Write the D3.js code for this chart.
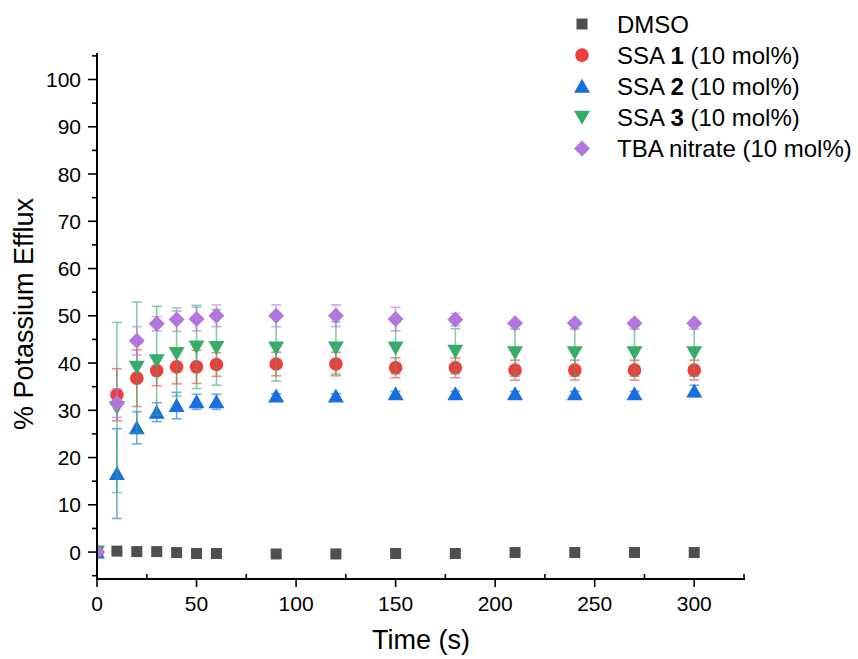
<!DOCTYPE html>
<html>
<head>
<meta charset="utf-8">
<script src="https://cdn.jsdelivr.net/npm/d3@7"></script>
<style>
  body { margin: 0; background: #fff; }
  svg { font-family: "Liberation Sans", Arial, sans-serif; }
</style>
</head>
<body>
<svg id="chart" width="858" height="659"></svg>
<script>
// data
var times = [0, 10, 20, 30, 40, 50, 60, 90, 120, 150, 180, 210, 240, 270, 300];
var dmso    = [0, 0.2, 0.1, 0.1, -0.1, -0.3, -0.3, -0.4, -0.4, -0.3, -0.3, -0.1, -0.1, -0.1, -0.1];
var dmsoErr = [0, 0, 0, 0, 0, 0, 0, 0, 0, 0, 0, 0, 0, 0, 0];
var ssa1    = [0, 33.3, 36.8, 38.4, 39.2, 39.2, 39.7, 39.8, 39.8, 39.0, 39.0, 38.5, 38.5, 38.5, 38.5];
var ssa1Err = [0, 5.5, 6.0, 3.2, 3.6, 3.5, 2.5, 2.5, 2.5, 2.1, 2.1, 2.1, 2.1, 2.1, 2.1];
var ssa2    = [0, 16.6, 26.3, 29.6, 31.0, 31.8, 31.8, 33.0, 33.0, 33.5, 33.5, 33.5, 33.5, 33.5, 34.1];
var ssa2Err = [0, 9.5, 3.4, 2.0, 2.8, 1.6, 1.6, 0.5, 0.5, 0.5, 0.5, 0.5, 0.5, 0.5, 1.2];
var ssa3    = [0, 30.6, 39.1, 40.5, 42.0, 43.4, 43.3, 43.2, 43.2, 43.2, 42.5, 42.2, 42.2, 42.2, 42.2];
var ssa3Err = [0, 18.0, 13.8, 11.5, 9.0, 8.8, 8.0, 7.0, 5.5, 5.5, 4.8, 5.0, 5.0, 5.0, 5.0];
var tba     = [0, 31.5, 44.7, 48.3, 49.2, 49.3, 50.0, 50.0, 50.0, 49.3, 49.2, 48.4, 48.4, 48.4, 48.4];
var tbaErr  = [0, 3.0, 3.0, 1.5, 2.5, 2.5, 2.3, 2.3, 2.3, 2.5, 1.3, 0.5, 0.5, 0.5, 0.5];

var xTicks = [0, 50, 100, 150, 200, 250, 300];
var yTicks = [0, 10, 20, 30, 40, 50, 60, 70, 80, 90, 100];

var series = [
  {name: ["DMSO"], vals: dmso, err: dmsoErr, color: "#4f4f4f", shape: "square"},
  {name: ["SSA ", "1", " (10 mol%)"], vals: ssa1, err: ssa1Err, color: "#f03c3c", shape: "circle"},
  {name: ["SSA ", "2", " (10 mol%)"], vals: ssa2, err: ssa2Err, color: "#1a6fdf", shape: "up"},
  {name: ["SSA ", "3", " (10 mol%)"], vals: ssa3, err: ssa3Err, color: "#37ad6b", shape: "down"},
  {name: ["TBA nitrate (10 mol%)"], vals: tba, err: tbaErr, color: "#b177de", shape: "diamond"}
];

////////////////////////////////////////////
// svg chart
////////////////////////////////////////////
var svg = d3.select("svg#chart");

var x = d3.scaleLinear().domain([0, 325]).range([97, 744]);
var y = d3.scaleLinear().domain([-5.7, 105.4]).range([579, 54]);

function shapePath(s){
  if(s == "square") return "M-5.5,-5.5H5.5V5.5H-5.5Z";
  if(s == "circle") return "M-6.8,0A6.8,6.8 0 1,1 6.8,0A6.8,6.8 0 1,1 -6.8,0Z";
  if(s == "up") return "M0,-7.5L8,6.5L-8,6.5Z";
  if(s == "down") return "M0,7.5L8,-6.5L-8,-6.5Z";
  if(s == "diamond") return "M0,-8L8,0L0,8L-8,0Z";
}

svg.append("defs").append("clipPath").attr("id", "plotclip")
  .append("rect")
  .attr("x", x(0)).attr("y", y(105.4))
  .attr("width", x(325) - x(0)).attr("height", y(-5.7) - y(105.4));

let plot = svg.append("g").attr("clip-path", "url(#plotclip)");

series.forEach(function(s){
  let g = plot.append("g").attr("class", "series");
  let pts = times.map((t, i) => ({t: t, v: s.vals[i], e: s.err[i]}));

  //error bars
  let eb = g.append("g")
    .attr("stroke", s.color)
    .attr("stroke-width", 1.6)
    .attr("opacity", 0.6)
    .selectAll("g")
    .data(pts.filter(d => d.e > 0))
    .enter().append("g");
  eb.append("line")
    .attr("x1", d => x(d.t)).attr("x2", d => x(d.t))
    .attr("y1", d => y(d.v + d.e)).attr("y2", d => y(d.v - d.e));
  eb.append("line")
    .attr("x1", d => x(d.t) - 5).attr("x2", d => x(d.t) + 5)
    .attr("y1", d => y(d.v + d.e)).attr("y2", d => y(d.v + d.e));
  eb.append("line")
    .attr("x1", d => x(d.t) - 5).attr("x2", d => x(d.t) + 5)
    .attr("y1", d => y(d.v - d.e)).attr("y2", d => y(d.v - d.e));

  //markers
  g.selectAll("path")
    .data(pts)
    .enter().append("path")
    .attr("d", shapePath(s.shape))
    .attr("transform", d => `translate(${x(d.t)},${y(d.v)})`)
    .attr("fill", s.color);
});

//xaxis
let xa = svg.append("g")
  .attr("class", "xaxis")
  .attr("transform", `translate(0,${y(-5.7)})`);
xa.append("line")
  .attr("x1", x(0) - 1).attr("x2", x(325) + 1)
  .attr("stroke", "#000").attr("stroke-width", 2);
xa.selectAll("line.major")
  .data(xTicks)
  .enter().append("line")
  .attr("class", "major")
  .attr("x1", d => x(d)).attr("x2", d => x(d))
  .attr("y1", 0).attr("y2", 8)
  .attr("stroke", "#000").attr("stroke-width", 1.6);
xa.selectAll("line.minor")
  .data(d3.range(25, 326, 50))
  .enter().append("line")
  .attr("class", "minor")
  .attr("x1", d => x(d)).attr("x2", d => x(d))
  .attr("y1", 0).attr("y2", -5)
  .attr("stroke", "#000").attr("stroke-width", 1.6);
xa.selectAll("text")
  .data(xTicks)
  .enter().append("text")
  .attr("x", d => x(d))
  .attr("y", 32)
  .attr("text-anchor", "middle")
  .attr("font-size", "21px")
  .attr("fill", "#000")
  .text(d => d);
svg.append("text")
  .attr("x", 421)
  .attr("y", 649)
  .attr("text-anchor", "middle")
  .attr("font-size", "27px")
  .attr("fill", "#000")
  .text("Time (s)");

//yaxis
let ya = svg.append("g")
  .attr("class", "yaxis")
  .attr("transform", `translate(${x(0)},0)`);
ya.append("line")
  .attr("y1", y(105.4) - 1).attr("y2", y(-5.7) + 1)
  .attr("stroke", "#000").attr("stroke-width", 2);
ya.selectAll("line.major")
  .data(yTicks)
  .enter().append("line")
  .attr("class", "major")
  .attr("y1", d => y(d)).attr("y2", d => y(d))
  .attr("x1", 0).attr("x2", -9)
  .attr("stroke", "#000").attr("stroke-width", 1.6);
ya.selectAll("line.minor")
  .data(d3.range(-5, 106, 10))
  .enter().append("line")
  .attr("class", "minor")
  .attr("y1", d => y(d)).attr("y2", d => y(d))
  .attr("x1", 0).attr("x2", -5)
  .attr("stroke", "#000").attr("stroke-width", 1.6);
ya.selectAll("text")
  .data(yTicks)
  .enter().append("text")
  .attr("x", -16)
  .attr("y", d => y(d))
  .attr("dy", "0.36em")
  .attr("text-anchor", "end")
  .attr("font-size", "21px")
  .attr("fill", "#000")
  .text(d => d);
svg.append("text")
  .attr("transform", "translate(33,314) rotate(-90)")
  .attr("text-anchor", "middle")
  .attr("font-size", "27px")
  .attr("fill", "#000")
  .text("% Potassium Efflux");

//legend
let leg = svg.append("g").attr("class", "legend");
series.forEach(function(s, i){
  let cy = 24 + i * 31.1;
  leg.append("path")
    .attr("d", shapePath(s.shape))
    .attr("transform", `translate(582,${cy})`)
    .attr("fill", s.color);
  let t = leg.append("text")
    .attr("x", 617)
    .attr("y", cy)
    .attr("dy", "0.36em")
    .attr("font-size", "24px")
    .attr("fill", "#000");
  s.name.forEach(function(part, j){
    t.append("tspan")
      .attr("font-weight", (s.name.length == 3 && j == 1) ? "bold" : "normal")
      .text(part);
  });
});
</script>
</body>
</html>
